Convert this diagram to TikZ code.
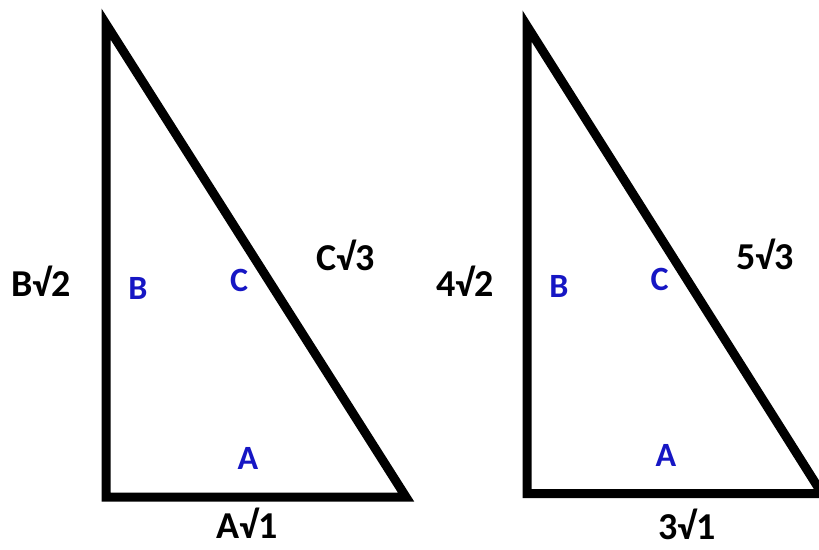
\documentclass[tikz,border=0pt]{standalone}
\usepackage{fontspec}
\setmainfont{Carlito}
\definecolor{letterblue}{RGB}{22,22,196}

\begin{document}
\begin{tikzpicture}[x=1pt,y=-1pt,
  side/.style={font=\bfseries\fontsize{38}{40}\selectfont,anchor=base,inner sep=0pt},
  corner/.style={font=\bfseries\fontsize{34}{36}\selectfont,text=letterblue,anchor=base,inner sep=0pt},
  edge/.style={line width=9pt}]
\useasboundingbox (0,0) rectangle (819,549);

% left triangle
\coordinate (l1) at (106,24);
\coordinate (l2) at (106,497);
\coordinate (l3) at (406,497);
\draw[edge] (l1)--(l2)--(l3)--cycle;

\node[side] (lb) at (41,296) {B√2};
\node[side] (lc) at (346,270) {C√3};
\node[side] (la) at (247,538) {A√1};
\node[corner] (lB) at (138,299) {B};
\node[corner] (lC) at (239,291) {C};
\node[corner] (lA) at (248,469) {A};

% right triangle
\coordinate (r1) at (527,26);
\coordinate (r2) at (527,493.5);
\coordinate (r3) at (822,493.5);
\draw[edge] (r1)--(r2)--(r3)--cycle;

\node[side] (rb) at (465,296) {4√2};
\node[side] (rc) at (765,269) {5√3};
\node[side] (ra) at (687,539) {3√1};
\node[corner] (rB) at (559,297) {B};
\node[corner] (rC) at (659.5,290) {C};
\node[corner] (rA) at (666,466) {A};
\end{tikzpicture}
\end{document}
